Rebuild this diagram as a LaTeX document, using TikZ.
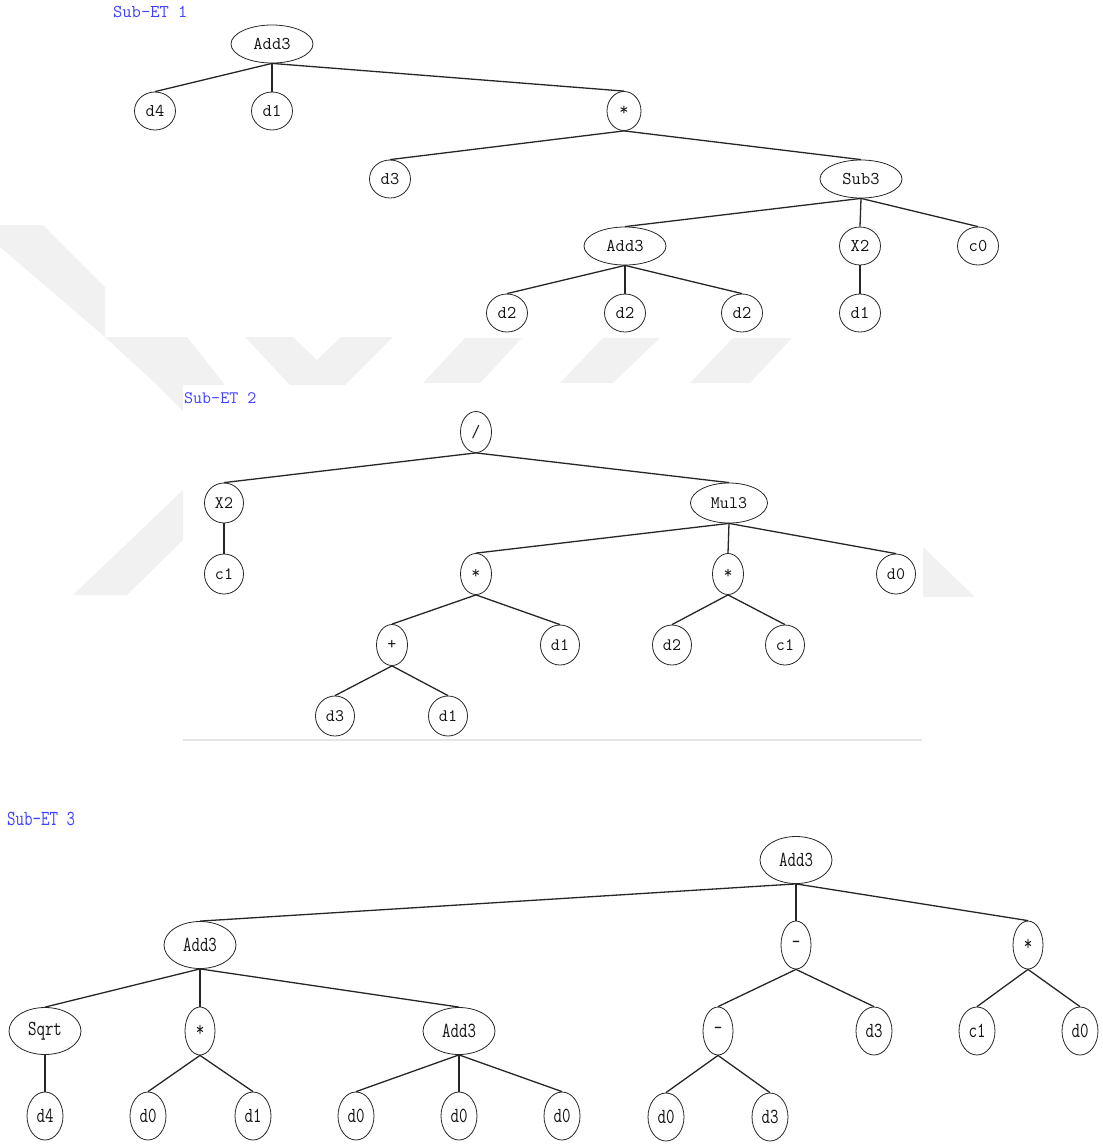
\documentclass[tikz,border=0pt]{standalone}
\usepackage{fontspec}
\usetikzlibrary{shapes.geometric}
\definecolor{subblue}{RGB}{64,64,255}
\definecolor{wm}{RGB}{241,241,241}
\newcommand{\tallt}[1]{\scalebox{1}[1.3]{#1}}
\tikzset{
  nd/.style={draw=black!85, ellipse, line width=0.8pt, inner sep=0pt, text=black!92},
  fa/.style={font={\ttfamily\fontsize{18}{20}\selectfont\addfontfeatures{FakeBold=0.6}}},
  fb/.style={font={\ttfamily\fontsize{17.5}{20}\selectfont\addfontfeatures{FakeBold=0.6}}},
  fc/.style={font={\ttfamily\fontsize{16.5}{18}\selectfont\addfontfeatures{FakeBold=0.6}}},
  ta/.style={font={\ttfamily\fontsize{18}{20}\selectfont}},
  tb/.style={font={\ttfamily\fontsize{17.5}{20}\selectfont}},
  tc/.style={font={\ttfamily\fontsize{16.5}{18}\selectfont}},
  aleaf/.style={nd, fa, minimum width=41pt, minimum height=38pt},
  awide/.style={nd, fa, minimum width=82pt, minimum height=38pt},
  aop/.style={nd, fa, minimum width=34pt, minimum height=39pt},
  bleaf/.style={nd, fb, minimum width=39pt, minimum height=40pt},
  bwide/.style={nd, fb, minimum width=77pt, minimum height=40pt},
  bop/.style={nd, fb, minimum width=31pt, minimum height=41pt},
  cleaf/.style={nd, fc, minimum width=36pt, minimum height=48pt},
  cwide/.style={nd, fc, minimum width=72pt, minimum height=47pt},
  cop/.style={nd, fc, minimum width=30pt, minimum height=48pt},
  edge/.style={line width=1.3pt, draw=black!85},
  title/.style={anchor=west, inner sep=0pt, text=subblue},
}
\begin{document}
\begin{tikzpicture}[x=1pt, y=-1pt]
\useasboundingbox (0,0) rectangle (1103,1144);
% faint watermark
\fill[wm] (0,225) -- (43,225) -- (105,287) -- (105,337) -- (0,247) -- cycle;
\fill[wm] (105,337) -- (187,337) -- (225,385) -- (183,385) -- (183,411) -- (157,385) -- cycle;
\fill[wm] (245,337) -- (293,337) -- (317,360) -- (341,337) -- (393,337) -- (345,385) -- (290,385) -- cycle;
\fill[wm] (423,383) -- (480,383) -- (522,338) -- (465,338) -- cycle;
\fill[wm] (560,383) -- (613,383) -- (660,338) -- (603,338) -- cycle;
\fill[wm] (690,383) -- (750,383) -- (792,338) -- (733,338) -- cycle;
\fill[wm] (73,595) -- (127,595) -- (183,540) -- (183,490) -- cycle;
\fill[wm] (923,547) -- (923,597) -- (975,597) -- cycle;
\draw[line width=1.5pt, black!10] (183,740) -- (922,740);

% ---------- Sub-ET 1 ----------
\node[title, ta] (t1) at (113,12) {Sub-ET 1};
\node[awide] (r1) at (272,44) {Add3};
\node[aleaf] (a1) at (155,111) {d4};
\node[aleaf] (b1) at (272,111) {d1};
\node[aop]   (c1) at (624,111) {*};
\node[aleaf] (d1) at (390,179) {d3};
\node[awide] (e1) at (861,179) {Sub3};
\node[awide] (f1) at (625,246) {Add3};
\node[aleaf] (g1) at (860,246) {X2};
\node[aleaf] (h1) at (978,246) {c0};
\node[aleaf] (i1) at (507,313) {d2};
\node[aleaf] (j1) at (625,313) {d2};
\node[aleaf] (k1) at (742,313) {d2};
\node[aleaf] (l1) at (860,313) {d1};
\foreach \p/\c in {r1/a1, r1/b1, r1/c1, c1/d1, c1/e1, e1/f1, e1/g1, e1/h1, f1/i1, f1/j1, f1/k1, g1/l1}
  \draw[edge] (\p.south) -- (\c.north);

% ---------- Sub-ET 2 ----------
\node[title, tb] (t2) at (184,398) {Sub-ET 2};
\node[bop]   (s2) at (476,432) {/};
\node[bleaf] (t2x) at (224,503) {X2};
\node[bwide] (u2) at (729,503) {Mul3};
\node[bleaf] (v2) at (224,574) {c1};
\node[bop]   (w2) at (476,574) {*};
\node[bop]   (x2) at (728,574) {*};
\node[bleaf] (y2) at (896,574) {d0};
\node[bop]   (z2) at (392,645) {+};
\node[bleaf] (A2) at (560,645) {d1};
\node[bleaf] (B2) at (672,645) {d2};
\node[bleaf] (C2) at (785,645) {c1};
\node[bleaf] (D2) at (335,716) {d3};
\node[bleaf] (E2) at (448,716) {d1};
\foreach \p/\c in {s2/t2x, s2/u2, t2x/v2, u2/w2, u2/x2, u2/y2, w2/z2, w2/A2, x2/B2, x2/C2, z2/D2, z2/E2}
  \draw[edge] (\p.south) -- (\c.north);

% ---------- Sub-ET 3 ----------
\node[title, tc] (t3) at (7,819) {\tallt{Sub-ET 3}};
\node[cwide] (R3) at (796,860) {\tallt{Add3}};
\node[cwide] (P3) at (200,945) {\tallt{Add3}};
\node[cop]   (Q3) at (796,945) {\tallt{-}};
\node[cop]   (S3) at (1028,945) {\tallt{*}};
\node[cwide] (T3) at (45,1031) {\tallt{Sqrt}};
\node[cop]   (U3) at (200,1031) {\tallt{*}};
\node[cwide] (V3) at (459,1031) {\tallt{Add3}};
\node[cop]   (W3) at (718,1031) {\tallt{-}};
\node[cleaf] (X3) at (874,1031) {\tallt{d3}};
\node[cleaf] (Y3) at (977,1031) {\tallt{c1}};
\node[cleaf] (Z3) at (1080,1031) {\tallt{d0}};
\node[cleaf] (L1) at (45,1116) {\tallt{d4}};
\node[cleaf] (L2) at (148,1116) {\tallt{d0}};
\node[cleaf] (L3) at (253,1116) {\tallt{d1}};
\node[cleaf] (L4) at (356,1116) {\tallt{d0}};
\node[cleaf] (L5) at (459,1116) {\tallt{d0}};
\node[cleaf] (L6) at (562,1116) {\tallt{d0}};
\node[cleaf] (L7) at (666,1117) {\tallt{d0}};
\node[cleaf] (L8) at (770,1117) {\tallt{d3}};
\foreach \p/\c in {R3/P3, R3/Q3, R3/S3, P3/T3, P3/U3, P3/V3, Q3/W3, Q3/X3, S3/Y3, S3/Z3, T3/L1, U3/L2, U3/L3, V3/L4, V3/L5, V3/L6, W3/L7, W3/L8}
  \draw[edge] (\p.south) -- (\c.north);
\end{tikzpicture}
\end{document}
